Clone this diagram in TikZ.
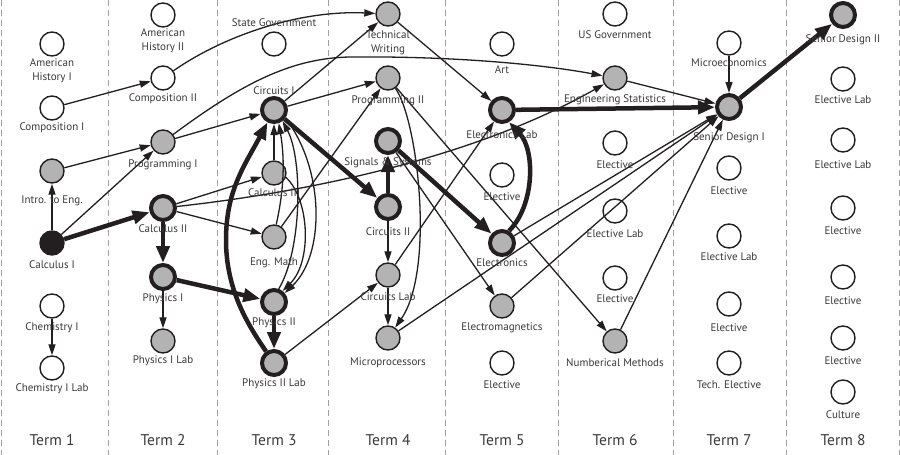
\documentclass[tikz,border=0pt]{standalone}
\usepackage{fontspec}
\setmainfont{PT Sans}
\usetikzlibrary{arrows.meta}
\definecolor{lc}{HTML}{231F20}
\definecolor{cg}{HTML}{B3B3B3}
\definecolor{tc}{HTML}{3A3A3A}
\definecolor{dc}{HTML}{A0A0A0}
\begin{document}
\begin{tikzpicture}[x=1pt,y=-1pt,
  base/.style={circle, draw=lc, inner sep=0pt},
  w/.style={base, line width=1.4pt, minimum size=24pt, fill=white},
  g/.style={base, line width=1.4pt, minimum size=24pt, fill=cg},
  k/.style={base, line width=4pt, minimum size=24pt, fill=cg},
  blk/.style={base, line width=1.4pt, minimum size=24pt, fill=lc},
  lab/.style={font=\fontsize{11}{14}\selectfont, text=tc, inner sep=0pt, align=center},
  term/.style={font=\fontsize{15.5}{18}\selectfont, text=tc, inner sep=0pt},
  ar/.style={draw=lc, line width=1.3pt, -{Triangle[length=11pt,width=7pt]}},
  tar/.style={draw=lc, line width=4.5pt, -{Triangle[length=17pt,width=13pt]}},
  divider/.style={draw=dc, line width=1pt, dash pattern=on 6pt off 4pt}
]
\useasboundingbox (0,0) rectangle (900,455);
\fill[white] (0,0) rectangle (900,455);
\foreach \x in {1,108,217,328,445,558,673,786,899} \draw[divider] (\x,0) -- (\x,455);

% Term 1
\node[w] (ah1) at (52,44) {};
\node[w] (comp1) at (52,108) {};
\node[g] (intro) at (52,171) {};
\node[blk] (calc1) at (52,243) {};
\node[w] (chem1) at (52,306) {};
\node[w] (chem1l) at (52,368) {};
% Term 2
\node[w] (ah2) at (163,15) {};
\node[w] (comp2) at (163,78) {};
\node[g] (prog1) at (163,142) {};
\node[k] (calc2) at (163,208) {};
\node[k] (phys1) at (163,277) {};
\node[g] (phys1l) at (163,341) {};
% Term 3
\node[w] (stgov) at (274,44) {};
\node[k] (circ1) at (274,110) {};
\node[g] (calc3) at (274,173) {};
\node[g] (engm) at (274,237) {};
\node[k] (phys2) at (274,302) {};
\node[k] (phys2l) at (274,363) {};
% Term 4
\node[g] (techw) at (388,14) {};
\node[g] (prog2) at (388,78) {};
\node[k] (sig) at (388,141) {};
\node[k] (circ2) at (388,207) {};
\node[g] (circl) at (388,275) {};
\node[g] (micro) at (388,338) {};
% Term 5
\node[w] (art) at (502,44) {};
\node[k] (elecl) at (502,110) {};
\node[w] (el5a) at (502,175) {};
\node[k] (elec) at (502,243) {};
\node[g] (emag) at (502,306) {};
\node[w] (el5b) at (502,363) {};
% Term 6
\node[w] (usgov) at (615,14) {};
\node[g] (engs) at (615,78) {};
\node[w] (el6a) at (615,143) {};
\node[w] (el6l) at (615,211) {};
\node[w] (el6b) at (615,278) {};
\node[g] (num) at (615,341) {};
% Term 7
\node[w] (mecon) at (729,43) {};
\node[k] (sd1) at (729,107) {};
\node[w] (el7a) at (729,168) {};
\node[w] (el7l) at (729,236) {};
\node[w] (el7b) at (729,304) {};
\node[w] (tech7) at (729,363) {};
% Term 8
\node[k] (sd2) at (843,15) {};
\node[w] (el8l1) at (843,79) {};
\node[w] (el8l2) at (843,140) {};
\node[w] (el8a) at (843,208) {};
\node[w] (el8b) at (843,277) {};
\node[w] (el8c) at (843,338) {};
\node[w] (cult) at (843,392) {};

% connectors
\draw[ar] (comp1) -- (comp2);
\draw[ar] (intro) -- (prog1);
\draw[ar] (calc1) -- (intro);
\draw[ar] (calc1) -- (prog1);
\draw[tar] (calc1) -- (calc2);
\draw[ar] (chem1) -- (chem1l);
\draw[ar] (comp2) .. controls (225,35) and (300,10) .. (techw);
\draw[ar] (prog1) .. controls (240,85) and (290,58) .. (350,57) .. controls (450,56) and (540,64) .. (engs);
\draw[ar] (prog1) -- (circ1);
\draw[ar] (calc2) -- (calc3);
\draw[ar] (calc2) -- (engm);
\draw[ar] (calc2) .. controls (300,193) and (470,160) .. (engs);
\draw[tar] (calc2) -- (phys1);
\draw[ar] (phys1) -- (phys1l);
\draw[tar] (phys1) -- (phys2);
\draw[tar] (phys2) -- (phys2l);
\draw[tar] (phys2l) .. controls (248,325) and (226,290) .. (226,240) .. controls (226,190) and (245,165) .. (circ1);
\draw[ar] (phys2l) -- (circl);
\draw[ar] (calc3) -- (circ1);
\draw[ar] (engm.80) .. controls (284,190) and (285,160) .. (circ1.-70);
\draw[ar] (phys2.70) .. controls (302,250) and (303,160) .. (circ1.-52);
\draw[ar] (calc3.-20) .. controls (310,200) and (312,262) .. (phys2.52);
\draw[ar] (circ1.-35) .. controls (325,170) and (325,255) .. (phys2.40);
\draw[ar] (engm) -- (prog2);
\draw[ar] (circ1) -- (techw);
\draw[ar] (circ1) -- (prog2);
\draw[tar] (circ1) -- (circ2);
\draw[tar] (circ2) -- (sig);
\draw[ar] (circ2) -- (circl);
\draw[ar] (circl) -- (micro);
\draw[ar] (prog2) .. controls (418,120) and (435,270) .. (micro);
\draw[ar] (prog2) -- (num);
\draw[ar] (techw) -- (elecl);
\draw[tar] (sig) -- (elec);
\draw[ar] (sig) -- (emag);
\draw[ar] (circl) -- (elecl);
\draw[tar] (elec.60) .. controls (535,205) and (535,150) .. (elecl.-60);
\draw[tar] (elecl) -- (sd1);
\draw[ar] (engs) -- (sd1);
\draw[ar] (mecon) -- (sd1);
\draw[tar] (sd1) -- (sd2);
\draw[ar] (elec) -- (sd1);
\draw[ar] (emag) -- (sd1);
\draw[ar] (micro) -- (sd1);
\draw[ar] (num) -- (sd1);

% labels
\node[lab] (l-ah1) at (52,71) {American\\History I};
\node[lab] (l-comp1) at (52,128) {Composition I};
\node[lab] (l-intro) at (52,201) {Intro. to Eng.};
\node[lab] (l-calc1) at (52,265) {Calculus I};
\node[lab] (l-chem1) at (52,328) {Chemistry I};
\node[lab] (l-chem1l) at (52,389) {Chemistry I Lab};
\node[lab] (l-ah2) at (163,41) {American\\History II};
\node[lab] (l-comp2) at (163,99) {Composition II};
\node[lab] (l-prog1) at (163,165) {Programming I};
\node[lab] (l-calc2) at (163,229) {Calculus II};
\node[lab] (l-phys1) at (163,299) {Physics I};
\node[lab] (l-phys1l) at (163,361) {Physics I Lab};
\node[lab] (l-stgov) at (274,23) {State Government};
\node[lab] (l-circ1) at (274,91) {Circuits I};
\node[lab] (l-calc3) at (274,193) {Calculus III};
\node[lab] (l-engm) at (274,263) {Eng. Math};
\node[lab] (l-phys2) at (274,323) {Physics II};
\node[lab] (l-phys2l) at (274,384) {Physics II Lab};
\node[lab] (l-techw) at (388,43) {Technical\\Writing};
\node[lab] (l-prog2) at (388,101) {Programming II};
\node[lab] (l-sig) at (388,163) {Signals \& Systems};
\node[lab] (l-circ2) at (388,232) {Circuits II};
\node[lab] (l-circl) at (388,297) {Circuits Lab};
\node[lab] (l-micro) at (388,363) {Microprocessors};
\node[lab] (l-art) at (502,70) {Art};
\node[lab] (l-elecl) at (502,135) {Electronics Lab};
\node[lab] (l-el5a) at (502,197) {Elective};
\node[lab] (l-elec) at (502,263) {Electronics};
\node[lab] (l-emag) at (502,328) {Electromagnetics};
\node[lab] (l-el5b) at (502,385) {Elective};
\node[lab] (l-usgov) at (615,35) {US Government};
\node[lab] (l-engs) at (615,100) {Engineering Statistics};
\node[lab] (l-el6a) at (615,165) {Elective};
\node[lab] (l-el6l) at (615,234) {Elective Lab};
\node[lab] (l-el6b) at (615,299) {Elective};
\node[lab] (l-num) at (615,363) {Numberical Methods};
\node[lab] (l-mecon) at (729,63) {Microeconomics};
\node[lab] (l-sd1) at (729,138) {Senior Design I};
\node[lab] (l-el7a) at (729,191) {Elective};
\node[lab] (l-el7l) at (729,257) {Elective Lab};
\node[lab] (l-el7b) at (729,328) {Elective};
\node[lab] (l-tech7) at (729,385) {Tech. Elective};
\node[lab] (l-sd2) at (843,40) {Senior Design II};
\node[lab] (l-el8l1) at (843,100) {Elective Lab};
\node[lab] (l-el8l2) at (843,165) {Elective Lab};
\node[lab] (l-el8a) at (843,231) {Elective};
\node[lab] (l-el8b) at (843,301) {Elective};
\node[lab] (l-el8c) at (843,361) {Elective};
\node[lab] (l-cult) at (843,415) {Culture};

\foreach \t/\x in {1/52,2/163,3/274,4/388,5/502,6/615,7/729,8/843}
  \node[term] (term\t) at (\x,440) {Term \t};
\end{tikzpicture}
\end{document}
